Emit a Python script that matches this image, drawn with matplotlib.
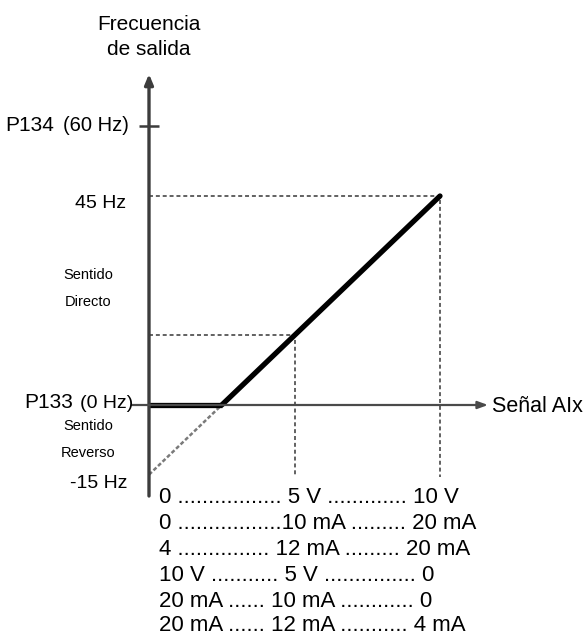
import matplotlib
matplotlib.use('Agg')
import matplotlib.pyplot as plt

plt.rcParams['font.family'] = ['Liberation Sans', 'DejaVu Sans']

# datos de la curva (senal en 0..10, frecuencia en Hz)
flat_x = [0, 2.5]
flat_y = [0, 0]
ramp_x = [2.5, 10]
ramp_y = [0, 45]
reverse_x = [0, 2.5]
reverse_y = [-15, 0]
mid_x, mid_y = 5, 15
max_x, max_y = 10, 45
p134_hz = 60

# tabla de equivalencias: (inicio, medio, fin) y numero de puntos entre ellos
row_start = ['0', '0', '4', '10 V', '20 mA', '20 mA']
row_mid = ['5 V', '10 mA', '12 mA', '5 V', '10 mA', '12 mA']
row_end = ['10 V', '20 mA', '20 mA', '0', '0', '4 mA']
dots_a = [17, 17, 15, 11, 6, 6]
dots_b = [13, 9, 9, 15, 12, 11]

table_rows = []
for s, m, e, a, b in zip(row_start, row_mid, row_end, dots_a, dots_b):
    sep = '' if m == '10 mA' and s == '0' else ' '
    table_rows.append(s + ' ' + '.' * a + sep + m + ' ' + '.' * b + ' ' + e)

W, H = 585, 637
fig = plt.figure(figsize=(W / 100, H / 100), dpi=100)
ax = fig.add_axes([0, 0, 1, 1])
ax.set_axis_off()

# escala: x=0 en px 149, x=10 en px 440 ; 0 Hz en px 405, 45 Hz en px 196
sx = 291 / 10
sy = 209 / 45
ax.set_xlim(-149 / sx, (W - 149) / sx)
ax.set_ylim((405 - H) / sy, 405 / sy)


def px(x, y):
    return x / W, 1 - y / H


def dx(p):
    return (p - 149) / sx


def dy(p):
    return (405 - p) / sy


axis_col = '#3c3c3c'
dash_col = '#555555'

# ejes con flechas
ax.annotate('', xy=(0, dy(74)), xytext=(0, dy(496)),
            arrowprops=dict(arrowstyle='-|>,head_length=0.6,head_width=0.25',
                            color=axis_col, lw=2.4, shrinkA=0, shrinkB=0))
ax.annotate('', xy=(dx(488), 0), xytext=(dx(132), 0),
            arrowprops=dict(arrowstyle='-|>,head_length=0.6,head_width=0.22',
                            color='#4a4a4a', lw=1.6, shrinkA=0, shrinkB=0))
# marca P134
ax.plot([dx(139), dx(159)], [p134_hz, p134_hz], color=axis_col, lw=1.8,
        solid_capstyle='butt')

# lineas de referencia punteadas
ax.plot([0, max_x, max_x], [max_y, max_y, dy(477)], color=dash_col, lw=1.3,
        ls=(0, (2.2, 1.6)))
ax.plot([0, mid_x, mid_x], [mid_y, mid_y, dy(477)], color=dash_col, lw=1.3,
        ls=(0, (2.2, 1.6)))
ax.plot(reverse_x, reverse_y, color='#7a7a7a', lw=1.8, ls=(0, (1.6, 0.9)))

# curva principal
ax.plot(flat_x, flat_y, color='black', lw=3.8, solid_capstyle='butt')
ax.plot(ramp_x, ramp_y, color='black', lw=3.8, solid_capstyle='round')

# textos
fig.text(*px(149, 30), 'Frecuencia', ha='center', va='baseline', fontsize=15)
fig.text(*px(149, 55), 'de salida', ha='center', va='baseline', fontsize=15)

fig.text(*px(54, 131), 'P134', ha='right', va='baseline', fontsize=15)
fig.text(*px(129, 131), '(60 Hz)', ha='right', va='baseline', fontsize=14.5)
fig.text(*px(126, 208), '45 Hz', ha='right', va='baseline', fontsize=14)
fig.text(*px(88, 279), 'Sentido', ha='center', va='baseline', fontsize=10.5)
fig.text(*px(88, 306), 'Directo', ha='center', va='baseline', fontsize=10.5)
fig.text(*px(73, 408), 'P133', ha='right', va='baseline', fontsize=15)
fig.text(*px(133, 408), '(0 Hz)', ha='right', va='baseline', fontsize=14)
fig.text(*px(88, 430), 'Sentido', ha='center', va='baseline', fontsize=10.5)
fig.text(*px(88, 457), 'Reverso', ha='center', va='baseline', fontsize=10.5)
fig.text(*px(128, 488), '-15 Hz', ha='right', va='baseline', fontsize=14)
fig.text(*px(492, 412), 'Señal AIx', ha='left', va='baseline', fontsize=15.5)

row_y = [503, 529, 555, 581, 607, 631]
for yy, row in zip(row_y, table_rows):
    fig.text(*px(159, yy), row, ha='left', va='baseline', fontsize=16)

fig.savefig('out.png', dpi=100)
